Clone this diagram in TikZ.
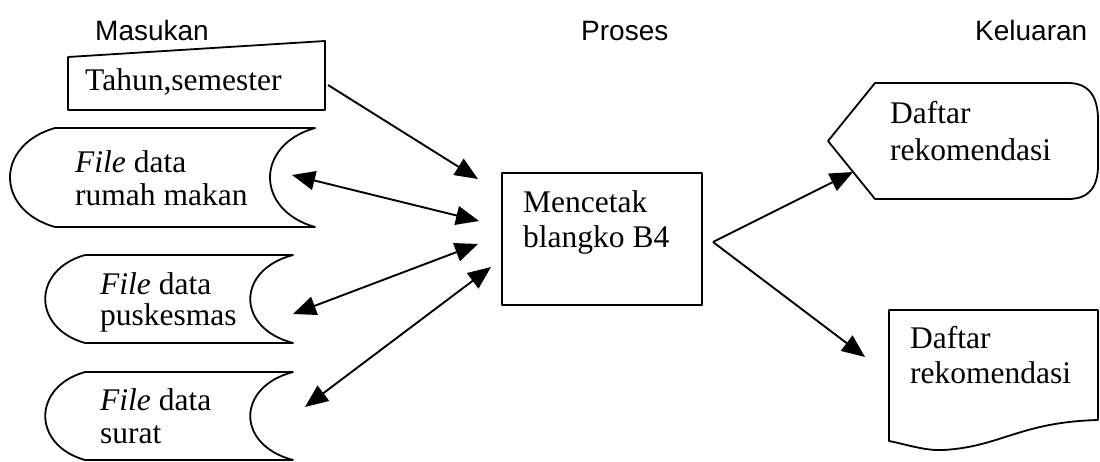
\documentclass[tikz,border=0pt]{standalone}
\usepackage{fontspec}
\setmainfont{Liberation Serif}
\newfontfamily\hdrfont{Liberation Sans}
\usetikzlibrary{arrows.meta}
\begin{document}
\begin{tikzpicture}[x=1pt,y=-1pt,
  shp/.style={line width=1.8pt, line join=round},
  txt/.style={anchor=base west, inner sep=0pt, font=\fontsize{31.5}{35}\selectfont},
  hdr/.style={anchor=base west, inner sep=0pt, font=\hdrfont\fontsize{28}{32}\selectfont},
  conn/.style={line width=1.9pt, -{Triangle[length=23pt,width=19pt]}},
  biconn/.style={line width=1.9pt, {Triangle[length=23pt,width=19pt]}-{Triangle[length=23pt,width=19pt]}},
]
\useasboundingbox (0,0) rectangle (1100,461);
\clip (0,0) rectangle (1100,461);

% headers
\node[hdr] (hmasuk) at (95,40) {Masukan};
\node[hdr] (hproses) at (581,40) {Proses};
\node[hdr] (hkeluar) at (975,40) {Keluaran};

% manual input
\draw[shp] (68,57) -- (325,41) -- (325,110) -- (68,110) -- cycle;
\node[txt] (tahun) at (85,90) {Tahun,semester};

% stored data: rumah makan
\draw[shp] (55,128) -- (315,128) .. controls (255,145) and (255,210) .. (315,227)
  -- (55,227) .. controls (-5,210) and (-5,145) .. (55,128);
\node[txt] (rm1) at (75,172) {\textit{File} data};
\node[txt] (rm2) at (75,205) {rumah makan};

% stored data: puskesmas
\draw[shp] (85,255) -- (293,255) .. controls (236,270) and (236,328) .. (293,343)
  -- (85,343) .. controls (32,328) and (32,270) .. (85,255);
\node[txt] (pk1) at (100,294) {\textit{File} data};
\node[txt] (pk2) at (100,325) {puskesmas};

% stored data: surat
\draw[shp] (85,372) -- (293,372) .. controls (236,387) and (236,445) .. (293,460)
  -- (85,460) .. controls (32,445) and (32,387) .. (85,372);
\node[txt] (sr1) at (100,410) {\textit{File} data};
\node[txt] (sr2) at (100,443) {surat};

% process
\node[shp, draw, minimum width=200pt, minimum height=132pt, inner sep=0pt] (proc) at (602,239) {};
\node[txt] (pr1) at (523,212) {Mencetak};
\node[txt] (pr2) at (523,247) {blangko B4};

% display output
\draw[shp] (875,83) -- (1068,83) .. controls (1090,83) and (1098,98) .. (1098,120)
  -- (1098,165) .. controls (1098,186) and (1090,199) .. (1068,199)
  -- (875,199) -- (828,141) -- cycle;
\node[txt] (dp1) at (890,123) {Daftar};
\node[txt] (dp2) at (890,160) {rekomendasi};

% document output
\draw[shp] (889,310) -- (1098,310) -- (1098,420)
  .. controls (1020,422) and (1000,447) .. (943,450)
  .. controls (925,451) and (905,444) .. (889,441) -- cycle;
\node[txt] (dc1) at (910,348) {Daftar};
\node[txt] (dc2) at (910,383) {rekomendasi};

% connector endpoints
\coordinate (a1s) at (328,85);   \coordinate (a1e) at (478,179);
\coordinate (a2s) at (292,175);  \coordinate (a2e) at (479,221);
\coordinate (a3s) at (293,314);  \coordinate (a3e) at (478,244);
\coordinate (a4s) at (305,407);  \coordinate (a4e) at (491,267);
\coordinate (fork) at (713,242);
\coordinate (o1e) at (853,172);
\coordinate (o2e) at (865,357);

\draw[conn] (a1s) -- (a1e);
\draw[biconn] (a2s) -- (a2e);
\draw[biconn] (a3s) -- (a3e);
\draw[biconn] (a4s) -- (a4e);
\draw[conn] (fork) -- (o1e);
\draw[conn] (fork) -- (o2e);
\end{tikzpicture}
\end{document}
